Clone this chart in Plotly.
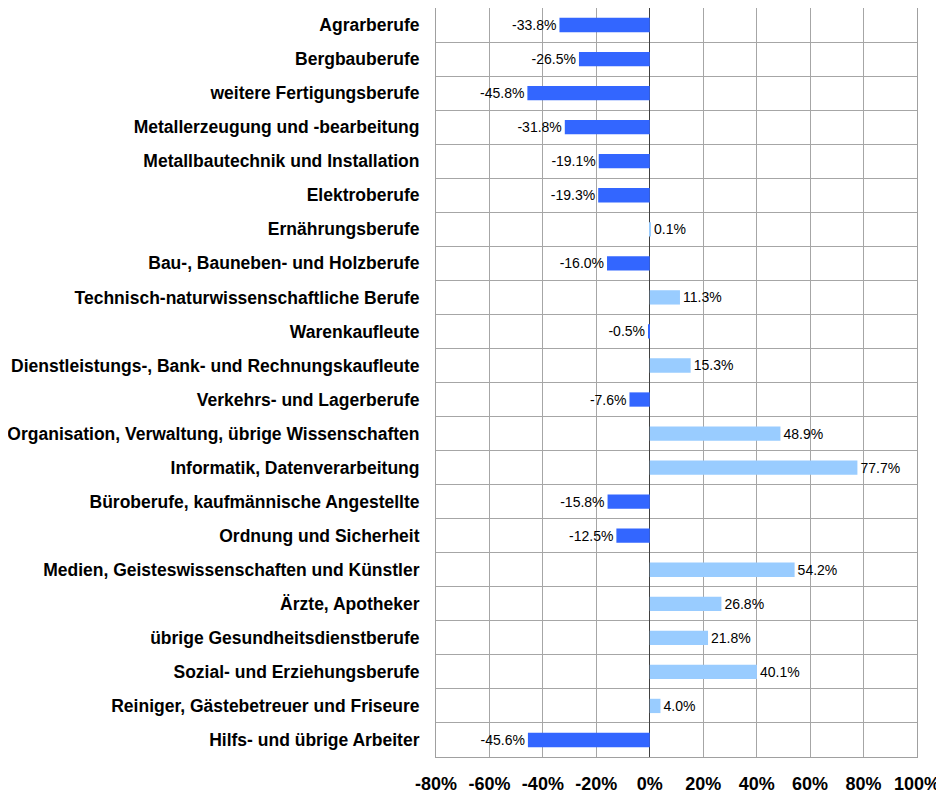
import plotly.graph_objects as go

# Berufsgruppen, von oben nach unten
categories = [
    "Agrarberufe",
    "Bergbauberufe",
    "weitere Fertigungsberufe",
    "Metallerzeugung und -bearbeitung",
    "Metallbautechnik und Installation",
    "Elektroberufe",
    "Ernährungsberufe",
    "Bau-, Bauneben- und Holzberufe",
    "Technisch-naturwissenschaftliche Berufe",
    "Warenkaufleute",
    "Dienstleistungs-, Bank- und Rechnungskaufleute",
    "Verkehrs- und Lagerberufe",
    "Organisation, Verwaltung, übrige Wissenschaften",
    "Informatik, Datenverarbeitung",
    "Büroberufe, kaufmännische Angestellte",
    "Ordnung und Sicherheit",
    "Medien, Geisteswissenschaften und Künstler",
    "Ärzte, Apotheker",
    "übrige Gesundheitsdienstberufe",
    "Sozial- und Erziehungsberufe",
    "Reiniger, Gästebetreuer und Friseure",
    "Hilfs- und übrige Arbeiter",
]
changes = [-33.8, -26.5, -45.8, -31.8, -19.1, -19.3, 0.1, -16.0, 11.3, -0.5, 15.3,
           -7.6, 48.9, 77.7, -15.8, -12.5, 54.2, 26.8, 21.8, 40.1, 4.0, -45.6]

x_ticks = [-80, -60, -40, -20, 0, 20, 40, 60, 80, 100]

NEG = "#3366FF"
POS = "#99CCFF"

n = len(categories)
ypos = list(range(n))
colors = [NEG if v < 0 else POS for v in changes]
labels = ["%.1f%%" % v for v in changes]

fig = go.Figure()
fig.add_trace(go.Bar(
    x=changes, y=ypos, orientation="h",
    marker=dict(color=colors, line=dict(width=0)),
    width=0.42,
    text=labels, textposition="outside", cliponaxis=False,
    constraintext="none",
    textfont=dict(family="Liberation Sans, Arial", size=14, color="#000000"),
    hoverinfo="skip",
))

# the page adds an 8px body margin, so the margins are shifted by that
fig.update_layout(
    width=944, height=792,
    margin=dict(l=428, r=35, t=0, b=43),
    paper_bgcolor="white", plot_bgcolor="white",
    showlegend=False,
    font=dict(family="Liberation Sans, Arial", color="#000000"),
)
fig.update_xaxes(
    range=[-80, 100], automargin=False,
    tickvals=x_ticks,
    ticktext=["%d%%" % t for t in x_ticks],
    tickfont=dict(size=18, family="Liberation Sans, Arial", weight="bold"),
    showgrid=True, gridcolor="#a6a6a6", gridwidth=1,
    zeroline=True, zerolinecolor="#404040", zerolinewidth=1,
    showline=True, linecolor="#a0a0a0", linewidth=1, mirror=True,
    ticks="outside", ticklen=10, tickcolor="rgba(0,0,0,0)",
)
fig.update_yaxes(
    range=[n - 0.5, -0.5], automargin=False,
    tickvals=ypos, ticktext=categories,
    tickfont=dict(size=17.5, family="Liberation Sans, Arial", weight="bold"),
    showgrid=False, zeroline=False,
    minor=dict(tick0=0.5, dtick=1, showgrid=True, gridcolor="#a6a6a6", gridwidth=1),
    showline=True, linecolor="#a0a0a0", linewidth=1, mirror=True,
    ticks="outside", ticklen=12, tickcolor="rgba(0,0,0,0)",
)

fig.write_html("out.html")
